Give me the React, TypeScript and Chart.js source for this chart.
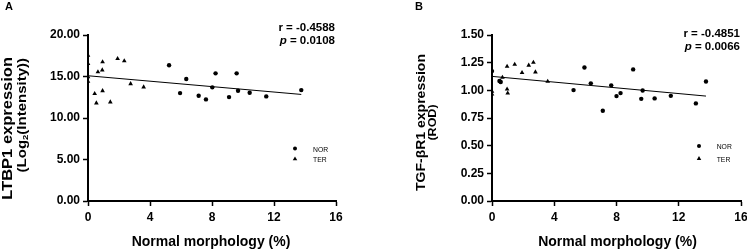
import React, { useEffect, useRef } from "react";
import { Chart, registerables } from "chart.js";

Chart.register(...registerables);

const FONT = "'Liberation Sans', Arial, Helvetica, sans-serif";

// ---- Panel A: LTBP1 expression vs normal morphology ----
const ltbpTerX = [0, 0, 0, 0, 0.43, 0.54, 0.64, 0.92, 0.94, 0.94, 1.44, 1.91, 2.34, 2.75, 3.59];
const ltbpTerY = [17.55, 16.55, 14.95, 14.4, 12.92, 11.8, 15.54, 15.78, 16.75, 13.28, 11.92, 17.14, 16.87, 14.12, 13.73];
const ltbpNorX = [5.23, 5.94, 6.34, 7.14, 7.61, 8.02, 8.23, 9.1, 9.59, 9.68, 10.43, 11.5, 13.76];
const ltbpNorY = [16.35, 13.0, 14.69, 12.68, 12.24, 13.69, 15.38, 12.52, 15.38, 13.28, 13.04, 12.6, 13.36];
const ltbpFitX = [0, 13.76];
const ltbpFitY = [15.09, 12.84];
const ltbpYTicks = [0, 5, 10, 15, 20];

// ---- Panel B: TGF-βR1 expression vs normal morphology ----
const tgfTerX = [0, 0, 0.67, 0.97, 0.97, 1.01, 1.46, 1.93, 2.36, 2.66, 2.79, 3.58];
const tgfTerY = [0.99, 0.965, 1.117, 1.216, 1.011, 0.975, 1.235, 1.159, 1.226, 1.253, 1.165, 1.081];
const tgfNorX = [0, 0.48, 0.56, 5.24, 5.94, 6.35, 7.12, 7.66, 8.0, 8.26, 9.07, 9.59, 9.68, 10.45, 11.49, 13.1, 13.75];
const tgfNorY = [1.174, 1.084, 1.075, 1.002, 1.207, 1.063, 0.815, 1.045, 0.948, 0.975, 1.189, 0.923, 0.999, 0.927, 0.95, 0.882, 1.08];
const tgfFitX = [0, 13.75];
const tgfFitY = [1.126, 0.948];
const tgfYTicks = [0, 0.25, 0.5, 0.75, 1.0, 1.25, 1.5];

const xTicks = [0, 4, 8, 12, 16];
const groupLabels = ["NOR", "TER"];
const xTitle = "Normal morphology (%)";

type Run = { text: string; size: number; weight?: string; style?: string; shift?: number };

// Draws a sequence of differently styled text runs as one line.
// squeeze narrows the glyphs along the screen x direction.
function drawRuns(
  ctx: CanvasRenderingContext2D,
  runs: Run[],
  x: number,
  y: number,
  align: "left" | "center" | "right",
  rotate = false,
  squeeze = 1
) {
  ctx.save();
  ctx.translate(x, y);
  ctx.scale(squeeze, 1);
  if (rotate) ctx.rotate(-Math.PI / 2);
  ctx.fillStyle = "#000";
  ctx.textBaseline = "alphabetic";
  ctx.textAlign = "left";
  const fontOf = (r: Run) => `${r.style || "normal"} ${r.weight || "bold"} ${r.size}px ${FONT}`;
  let total = 0;
  const widths = runs.map((r) => {
    ctx.font = fontOf(r);
    const w = ctx.measureText(r.text).width;
    total += w;
    return w;
  });
  let cx = align === "left" ? 0 : align === "center" ? -total / 2 : -total;
  runs.forEach((r, i) => {
    ctx.font = fontOf(r);
    ctx.fillText(r.text, cx, r.shift || 0);
    cx += widths[i];
  });
  ctx.restore();
}

type PanelCfg = {
  letter: string;
  left: number;
  width: number;
  axisWidth: number;
  rightPad: number;
  yMax: number;
  yTicks: number[];
  norX: number[];
  norY: number[];
  terX: number[];
  terY: number[];
  fitX: number[];
  fitY: number[];
  r: string;
  p: string;
  yTitle: { runs: Run[]; x: number; y: number; align: "center" | "right" }[];
  yTitleSqueeze: number;
  letterX: number;
  xTitleX: number;
  statsX: number;
  statsY: [number, number];
  legendMarkX: number;
  legendTextX: number;
  legendY: [number, number];
};

const panels: PanelCfg[] = [
  {
    letter: "A",
    left: 0,
    width: 373,
    axisWidth: 88,
    rightPad: 37,
    yMax: 20,
    yTicks: ltbpYTicks,
    norX: ltbpNorX,
    norY: ltbpNorY,
    terX: ltbpTerX,
    terY: ltbpTerY,
    fitX: ltbpFitX,
    fitY: ltbpFitY,
    r: "r = -0.4588",
    p: " = 0.0108",
    yTitle: [
      { runs: [{ text: "LTBP1 expression", size: 16.5 }], x: 12.0, y: 57, align: "right" },
      {
        runs: [
          { text: "(Log", size: 15 },
          { text: "2", size: 9.5, shift: 3 },
          { text: "(Intensity))", size: 15 },
        ],
        x: 25.8,
        y: 58,
        align: "right",
      },
    ],
    yTitleSqueeze: 0.85,
    letterX: 5,
    xTitleX: 211,
    statsX: 335,
    statsY: [31, 43.5],
    legendMarkX: 295,
    legendTextX: 313,
    legendY: [148.5, 159],
  },
  {
    letter: "B",
    left: 373,
    width: 384,
    axisWidth: 119,
    rightPad: 16,
    yMax: 1.5,
    yTicks: tgfYTicks,
    norX: tgfNorX,
    norY: tgfNorY,
    terX: tgfTerX,
    terY: tgfTerY,
    fitX: tgfFitX,
    fitY: tgfFitY,
    r: "r = -0.4851",
    p: " = 0.0066",
    yTitle: [
      { runs: [{ text: "TGF-βR1 expression", size: 14 }], x: 51.9, y: 122.5, align: "center" },
      { runs: [{ text: "(ROD)", size: 12.5 }], x: 63.1, y: 122.5, align: "center" },
    ],
    yTitleSqueeze: 0.87,
    letterX: 42,
    xTitleX: 244.5,
    statsX: 367,
    statsY: [37, 49.5],
    legendMarkX: 326,
    legendTextX: 343.7,
    legendY: [146, 158.7],
  },
];

const zip = (xs: number[], ys: number[]) => xs.map((x, i) => ({ x, y: ys[i] }));

function Panel({ cfg }: { cfg: PanelCfg }) {
  const ref = useRef<HTMLCanvasElement>(null);

  useEffect(() => {
    const canvas = ref.current!;
    const overlay = {
      id: "panelText",
      afterDraw(chart: any) {
        const ctx: CanvasRenderingContext2D = chart.ctx;
        // panel letter
        drawRuns(ctx, [{ text: cfg.letter, size: 11 }], cfg.letterX, 10, "left");
        // axis titles
        cfg.yTitle.forEach((t) => drawRuns(ctx, t.runs, t.x, t.y, t.align, true, cfg.yTitleSqueeze));
        drawRuns(ctx, [{ text: xTitle, size: 14 }], cfg.xTitleX, 246, "center");
        // correlation stats
        drawRuns(ctx, [{ text: cfg.r, size: 11.5 }], cfg.statsX, cfg.statsY[0], "right");
        drawRuns(
          ctx,
          [
            { text: "p", size: 11.5, style: "italic" },
            { text: cfg.p, size: 11.5 },
          ],
          cfg.statsX,
          cfg.statsY[1],
          "right"
        );
        // legend
        ctx.save();
        ctx.fillStyle = "#000";
        const [y1, y2] = cfg.legendY;
        ctx.beginPath();
        ctx.arc(cfg.legendMarkX, y1, 2, 0, Math.PI * 2);
        ctx.fill();
        const r = 2.6;
        ctx.beginPath();
        ctx.moveTo(cfg.legendMarkX, y2 - r);
        ctx.lineTo(cfg.legendMarkX + r * 0.866, y2 + r / 2);
        ctx.lineTo(cfg.legendMarkX - r * 0.866, y2 + r / 2);
        ctx.closePath();
        ctx.fill();
        ctx.restore();
        drawRuns(ctx, [{ text: groupLabels[0], size: 8, weight: "normal" }], cfg.legendTextX, y1 + 3, "left", false, 0.85);
        drawRuns(ctx, [{ text: groupLabels[1], size: 8, weight: "normal" }], cfg.legendTextX, y2 + 3, "left", false, 0.85);
      },
    };

    const tickFont = { family: FONT, size: 12, weight: "bold" as const };
    const grid = {
      display: true,
      drawOnChartArea: false,
      drawTicks: true,
      tickLength: 5,
      tickWidth: 1.5,
      color: "#000",
    };
    const border = { display: true, color: "#000", width: 2 };

    const chart = new Chart(canvas, {
      type: "scatter",
      data: {
        datasets: [
          {
            label: groupLabels[0],
            data: zip(cfg.norX, cfg.norY),
            pointStyle: "circle",
            pointRadius: 2.2,
            backgroundColor: "#000",
            borderWidth: 0,
          },
          {
            label: groupLabels[1],
            data: zip(cfg.terX, cfg.terY),
            pointStyle: "triangle",
            pointRadius: 2.7,
            backgroundColor: "#000",
            borderWidth: 0,
          },
          {
            label: "fit",
            data: zip(cfg.fitX, cfg.fitY),
            showLine: true,
            pointRadius: 0,
            borderColor: "#000",
            borderWidth: 1,
            fill: false,
          },
        ],
      },
      options: {
        responsive: false,
        animation: false,
        devicePixelRatio: 1,
        events: [],
        layout: { padding: { top: 35, right: cfg.rightPad, left: 0, bottom: 0 } },
        plugins: { legend: { display: false }, tooltip: { enabled: false } },
        scales: {
          x: {
            type: "linear",
            min: 0,
            max: 16,
            afterBuildTicks: (s: any) => {
              s.ticks = xTicks.map((v) => ({ value: v }));
            },
            afterFit: (s: any) => {
              s.height = 49;
            },
            grid,
            border,
            ticks: { color: "#000", font: tickFont, padding: 4, maxRotation: 0 },
          },
          y: {
            type: "linear",
            min: 0,
            max: cfg.yMax,
            afterBuildTicks: (s: any) => {
              s.ticks = cfg.yTicks.map((v) => ({ value: v }));
            },
            afterFit: (s: any) => {
              s.width = cfg.axisWidth;
            },
            grid,
            border,
            ticks: {
              color: "#000",
              font: tickFont,
              padding: 3,
              callback: (v: any) => Number(v).toFixed(2),
            },
          },
        },
      },
      plugins: [overlay],
    } as any);

    return () => chart.destroy();
  }, [cfg]);

  return (
    <canvas
      ref={ref}
      width={cfg.width}
      height={250}
      style={{ position: "absolute", left: cfg.left, top: 0, width: cfg.width, height: 250 }}
    />
  );
}

export default function App() {
  return (
    <div
      style={{
        position: "fixed",
        left: 0,
        top: 0,
        width: 747,
        height: 250,
        overflow: "hidden",
        background: "#fff",
      }}
    >
      {panels.map((p) => (
        <Panel key={p.letter} cfg={p} />
      ))}
    </div>
  );
}
